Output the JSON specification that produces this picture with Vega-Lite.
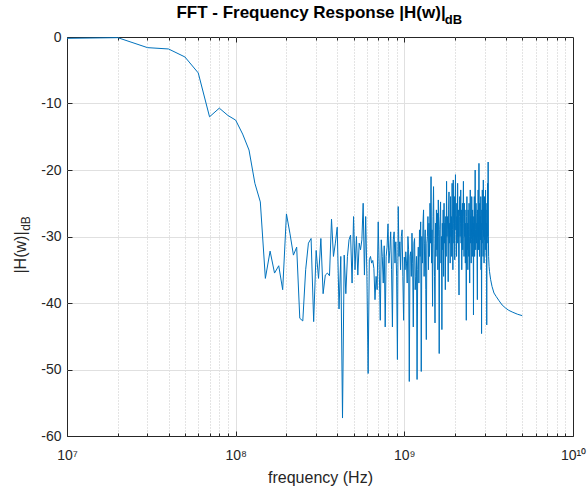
{
  "$schema": "https://vega.github.io/schema/vega-lite/v6.json",
  "width": 506,
  "height": 399,
  "autosize": "none",
  "padding": {"left": 67, "top": 37, "right": 15, "bottom": 54},
  "background": "white",
  "config": {
    "font": "Liberation Sans",
    "view": {"stroke": "#262626", "strokeWidth": 1}
  },
  "title": {
    "text": "FFT - Frequency Response |H(w)|",
    "fontSize": 17,
    "fontWeight": "bold",
    "color": "#000000",
    "anchor": "middle",
    "frame": "group",
    "dx": -9,
    "offset": -9
  },
  "data": {"values": [
    {"f":1e7,"db":-0.2},{"f":2e7,"db":-0.1},{"f":3e7,"db":-1.6},{"f":4e7,"db":-1.8},{"f":5e7,"db":-3},{"f":6e7,"db":-5.4},{"f":7e7,"db":-12},{"f":8e7,"db":-10.7},{"f":9e7,"db":-11.8},{"f":10e7,"db":-12.5},
    {"f":11e7,"db":-14.6},{"f":12e7,"db":-17},{"f":13e7,"db":-22},{"f":14e7,"db":-24.8},{"f":15e7,"db":-36.3},{"f":16e7,"db":-32.2},{"f":17e7,"db":-35.5},{"f":18e7,"db":-34.4},{"f":19e7,"db":-38},{"f":20e7,"db":-26.6},
    {"f":21e7,"db":-29.6},{"f":22e7,"db":-32.8},{"f":23e7,"db":-31.6},{"f":24e7,"db":-42.3},{"f":25e7,"db":-42.7},{"f":26e7,"db":-35},{"f":27e7,"db":-31},{"f":28e7,"db":-30.3},{"f":29e7,"db":-42.8},{"f":30e7,"db":-32.1},
    {"f":31e7,"db":-36.3},{"f":32e7,"db":-30.3},{"f":33e7,"db":-38.6},{"f":34e7,"db":-35.8},{"f":35e7,"db":-35.5},{"f":36e7,"db":-35.9},{"f":37e7,"db":-27.4},{"f":38e7,"db":-33},{"f":39e7,"db":-31},{"f":40e7,"db":-28.6},
    {"f":41e7,"db":-40.9},{"f":42e7,"db":-33},{"f":43e7,"db":-57.3},{"f":44e7,"db":-32.8},{"f":45e7,"db":-38.6},{"f":46e7,"db":-33},{"f":47e7,"db":-30.5},{"f":48e7,"db":-29.8},{"f":49e7,"db":-37},{"f":50e7,"db":-27},
    {"f":51e7,"db":-35},{"f":52e7,"db":-30},{"f":53e7,"db":-35.8},{"f":54e7,"db":-31},{"f":55e7,"db":-32},{"f":56e7,"db":-30.5},{"f":57e7,"db":-25},{"f":58e7,"db":-35.8},{"f":59e7,"db":-27},{"f":60e7,"db":-36},
    {"f":61e7,"db":-50.6},{"f":62e7,"db":-33.5},{"f":63e7,"db":-33},{"f":64e7,"db":-34},{"f":65e7,"db":-33.6},{"f":66e7,"db":-34.8},{"f":67e7,"db":-39.5},{"f":68e7,"db":-36},{"f":69e7,"db":-38},{"f":70e7,"db":-27.8},
    {"f":71e7,"db":-35},{"f":72e7,"db":-42.6},{"f":73e7,"db":-30.5},{"f":74e7,"db":-33},{"f":75e7,"db":-37},{"f":76e7,"db":-31.4},{"f":77e7,"db":-43.6},{"f":78e7,"db":-33},{"f":79e7,"db":-31.6},{"f":80e7,"db":-28.1},
    {"f":81e7,"db":-34},{"f":82e7,"db":-32.1},{"f":83e7,"db":-29.3},{"f":84e7,"db":-35},{"f":85e7,"db":-43.6},{"f":86e7,"db":-30.5},{"f":87e7,"db":-29.3},{"f":88e7,"db":-34},{"f":89e7,"db":-30.8},{"f":90e7,"db":-36},
    {"f":91e7,"db":-48.5},{"f":92e7,"db":-25.5},{"f":93e7,"db":-33},{"f":94e7,"db":-30.8},{"f":95e7,"db":-35},{"f":96e7,"db":-30},{"f":97e7,"db":-29},{"f":98e7,"db":-36},{"f":99e7,"db":-42.6},{"f":100e7,"db":-33.1},
    {"f":101e7,"db":-35},{"f":102e7,"db":-32.3},{"f":103e7,"db":-34},{"f":104e7,"db":-37},{"f":105e7,"db":-30},{"f":106e7,"db":-32},{"f":107e7,"db":-51.8},{"f":108e7,"db":-33},{"f":109e7,"db":-32.3},{"f":110e7,"db":-36},
    {"f":111e7,"db":-29.5},{"f":112e7,"db":-34},{"f":113e7,"db":-43.6},{"f":114e7,"db":-31},{"f":115e7,"db":-30.3},{"f":116e7,"db":-38},{"f":117e7,"db":-36},{"f":118e7,"db":-33},{"f":119e7,"db":-51.5},{"f":120e7,"db":-35},
    {"f":121e7,"db":-31.6},{"f":122e7,"db":-37},{"f":123e7,"db":-29},{"f":124e7,"db":-33},{"f":125e7,"db":-27.8},{"f":126e7,"db":-50.3},{"f":127e7,"db":-30},{"f":128e7,"db":-34},{"f":129e7,"db":-28},{"f":130e7,"db":-26},
    {"f":131e7,"db":-36},{"f":132e7,"db":-31},{"f":133e7,"db":-29},{"f":134e7,"db":-38},{"f":135e7,"db":-45.5},{"f":136e7,"db":-31},{"f":137e7,"db":-30},{"f":138e7,"db":-27},{"f":139e7,"db":-35},{"f":140e7,"db":-28},
    {"f":141e7,"db":-33},{"f":142e7,"db":-25},{"f":143e7,"db":-31},{"f":144e7,"db":-21},{"f":145e7,"db":-34},{"f":146e7,"db":-29},{"f":147e7,"db":-40.5},{"f":148e7,"db":-27},{"f":149e7,"db":-22.5},{"f":150e7,"db":-31},
    {"f":151e7,"db":-36},{"f":152e7,"db":-43},{"f":153e7,"db":-28},{"f":154e7,"db":-33},{"f":155e7,"db":-26},{"f":156e7,"db":-32},{"f":157e7,"db":-26.5},{"f":158e7,"db":-35},{"f":159e7,"db":-24.5},{"f":160e7,"db":-30},
    {"f":161e7,"db":-47.6},{"f":162e7,"db":-29},{"f":163e7,"db":-27},{"f":164e7,"db":-24.8},{"f":165e7,"db":-34},{"f":166e7,"db":-30},{"f":167e7,"db":-44},{"f":168e7,"db":-28},{"f":169e7,"db":-32},{"f":170e7,"db":-26},
    {"f":171e7,"db":-36},{"f":172e7,"db":-25},{"f":173e7,"db":-31},{"f":174e7,"db":-28},{"f":175e7,"db":-38},{"f":176e7,"db":-27},{"f":177e7,"db":-33},{"f":178e7,"db":-21.7},{"f":179e7,"db":-30},{"f":180e7,"db":-27},
    {"f":181e7,"db":-29},{"f":182e7,"db":-36.8},{"f":183e7,"db":-26},{"f":184e7,"db":-23.3},{"f":185e7,"db":-31},{"f":186e7,"db":-28},{"f":187e7,"db":-34},{"f":188e7,"db":-24},{"f":189e7,"db":-30},{"f":190e7,"db":-27},
    {"f":191e7,"db":-33},{"f":192e7,"db":-22},{"f":193e7,"db":-29},{"f":194e7,"db":-35},{"f":195e7,"db":-21.5},{"f":196e7,"db":-28},{"f":197e7,"db":-31},{"f":198e7,"db":-24},{"f":199e7,"db":-33.5},{"f":200e7,"db":-26},
    {"f":201e7,"db":-20.7},{"f":202e7,"db":-29},{"f":203e7,"db":-25},{"f":204e7,"db":-33},{"f":205e7,"db":-27},{"f":206e7,"db":-31},{"f":207e7,"db":-22},{"f":208e7,"db":-30},{"f":209e7,"db":-26},{"f":210e7,"db":-34},
    {"f":211e7,"db":-38.8},{"f":212e7,"db":-27},{"f":213e7,"db":-24},{"f":214e7,"db":-30},{"f":215e7,"db":-28},{"f":216e7,"db":-23},{"f":217e7,"db":-31},{"f":218e7,"db":-26},{"f":219e7,"db":-35},{"f":220e7,"db":-29},
    {"f":221e7,"db":-25},{"f":222e7,"db":-32},{"f":223e7,"db":-27},{"f":224e7,"db":-21.7},{"f":225e7,"db":-28},{"f":226e7,"db":-33},{"f":227e7,"db":-25},{"f":228e7,"db":-30},{"f":229e7,"db":-26},{"f":230e7,"db":-34},
    {"f":231e7,"db":-28},{"f":232e7,"db":-31},{"f":233e7,"db":-42.6},{"f":234e7,"db":-27},{"f":235e7,"db":-24},{"f":236e7,"db":-32},{"f":237e7,"db":-28},{"f":238e7,"db":-35},{"f":239e7,"db":-26},{"f":240e7,"db":-29},
    {"f":241e7,"db":-33},{"f":242e7,"db":-25},{"f":243e7,"db":-30},{"f":244e7,"db":-37},{"f":245e7,"db":-28},{"f":246e7,"db":-23},{"f":247e7,"db":-31},{"f":248e7,"db":-27},{"f":249e7,"db":-34},{"f":250e7,"db":-30.5},
    {"f":251e7,"db":-24},{"f":252e7,"db":-29},{"f":253e7,"db":-33},{"f":254e7,"db":-26},{"f":255e7,"db":-31},{"f":256e7,"db":-28},{"f":257e7,"db":-41.8},{"f":258e7,"db":-27},{"f":259e7,"db":-30},{"f":260e7,"db":-24},
    {"f":261e7,"db":-33},{"f":262e7,"db":-27},{"f":263e7,"db":-20},{"f":264e7,"db":-29},{"f":265e7,"db":-32},{"f":266e7,"db":-25},{"f":267e7,"db":-26.5},{"f":268e7,"db":-31},{"f":269e7,"db":-28},{"f":270e7,"db":-34},
    {"f":271e7,"db":-39.5},{"f":272e7,"db":-26},{"f":273e7,"db":-30},{"f":274e7,"db":-23},{"f":275e7,"db":-32},{"f":276e7,"db":-27},{"f":277e7,"db":-19},{"f":278e7,"db":-28},{"f":279e7,"db":-33},{"f":280e7,"db":-25},
    {"f":281e7,"db":-30},{"f":282e7,"db":-27},{"f":283e7,"db":-30.5},{"f":284e7,"db":-24},{"f":285e7,"db":-35},{"f":286e7,"db":-28},{"f":287e7,"db":-44.6},{"f":288e7,"db":-26},{"f":289e7,"db":-31},{"f":290e7,"db":-23},
    {"f":291e7,"db":-29},{"f":292e7,"db":-27},{"f":293e7,"db":-33},{"f":294e7,"db":-21.5},{"f":295e7,"db":-30},{"f":296e7,"db":-26},{"f":297e7,"db":-34},{"f":298e7,"db":-28},{"f":299e7,"db":-24},{"f":300e7,"db":-30.5},
    {"f":301e7,"db":-27},{"f":302e7,"db":-32},{"f":303e7,"db":-23},{"f":304e7,"db":-29},{"f":305e7,"db":-26},{"f":306e7,"db":-33},{"f":307e7,"db":-28},{"f":308e7,"db":-43.3},{"f":309e7,"db":-25},{"f":310e7,"db":-30},
    {"f":311e7,"db":-27},{"f":312e7,"db":-22},{"f":313e7,"db":-31},{"f":314e7,"db":-18.8},{"f":315e7,"db":-30},
    {"f":316e7,"db":-33},{"f":318e7,"db":-34.5},{"f":320e7,"db":-35.3},{"f":325e7,"db":-36.5},{"f":331e7,"db":-37.5},{"f":340e7,"db":-38.5},{"f":350e7,"db":-39},{"f":363e7,"db":-39.6},{"f":380e7,"db":-40.3},{"f":400e7,"db":-40.8},{"f":416e7,"db":-41.1},{"f":440e7,"db":-41.4},{"f":470e7,"db":-41.7},{"f":500e7,"db":-41.9}
  ]},
  "layer": [
    {
      "mark": {"type": "line", "color": "#0072BD", "strokeWidth": 1, "clip": true},
      "encoding": {
        "x": {"field": "f", "type": "quantitative",
          "scale": {"type": "log", "domain": [1e7, 1e10], "nice": false},
          "axis": {"orient": "bottom", "values": [1e7, 1e8, 1e9, 1e10],
            "labelExpr": "'10' + ['\u2077','\u2078','\u2079','\u00b9\u2070'][round(log(datum.value)/LN10) - 7]",
            "labelFlush": false, "labelOverlap": false, "labelFontSize": 14, "labelColor": "#262626", "labelBaseline": "top", "labelPadding": 17,
            "tickSize": -5, "tickColor": "#262626", "domain": false,
            "grid": true, "gridColor": {"condition": {"test": "datum.value <= 1e7 || datum.value >= 1e10", "value": "transparent"}, "value": "#e0e0e0"},
            "title": "frequency (Hz)", "titleFontSize": 16, "titleFontWeight": "normal", "titleColor": "#262626", "titleY": 33, "titleBaseline": "top"}},
        "y": {"field": "db", "type": "quantitative",
          "scale": {"domain": [-60, 0], "nice": false, "zero": false},
          "axis": {"orient": "left", "values": [-60, -50, -40, -30, -20, -10, 0],
            "labelExpr": "'' + datum.value", "labelFontSize": 14, "labelColor": "#262626", "labelPadding": 11,
            "tickSize": -5, "tickColor": "#262626", "domain": false,
            "grid": true, "gridColor": {"condition": {"test": "datum.value <= -60 || datum.value >= 0", "value": "transparent"}, "value": "#e0e0e0"},
            "title": "|H(w)|", "titleFontSize": 16, "titleFontWeight": "normal", "titleColor": "#262626", "titleX": -39, "titleY": 215}}
      }
    },
    {
      "mark": {"type": "line", "opacity": 0},
      "encoding": {
        "x": {"field": "f", "type": "quantitative",
          "scale": {"type": "log", "domain": [1e7, 1e10], "nice": false},
          "axis": {"orient": "bottom", "values": [2e7,3e7,4e7,5e7,6e7,7e7,8e7,9e7,2e8,3e8,4e8,5e8,6e8,7e8,8e8,9e8,2e9,3e9,4e9,5e9,6e9,7e9,8e9,9e9],
            "labels": false, "tickSize": -3, "tickColor": "#262626", "domain": false,
            "grid": true, "gridColor": "#c8c8c8", "gridDash": [1, 2], "title": null}},
        "y": {"field": "db", "type": "quantitative",
          "scale": {"domain": [-60, 0], "nice": false, "zero": false},
          "axis": {"orient": "right", "values": [-50, -40, -30, -20, -10],
            "labels": false, "tickSize": -5, "tickColor": "#262626", "domain": false, "grid": false, "title": null}}
      }
    },
    {
      "mark": {"type": "line", "opacity": 0},
      "encoding": {
        "x": {"field": "f", "type": "quantitative",
          "scale": {"type": "log", "domain": [1e7, 1e10], "nice": false},
          "axis": {"orient": "top", "values": [1e8, 1e9],
            "labels": false, "tickSize": -5, "tickColor": "#262626", "domain": false, "grid": false,
            "title": "dB", "titleFontSize": 13, "titleFontWeight": "bold", "titleColor": "#000000",
            "titleX": 386, "titleY": -14, "titleAlign": "center", "titleBaseline": "alphabetic"}},
        "y": {"field": "db", "type": "quantitative",
          "scale": {"domain": [-60, 0], "nice": false, "zero": false},
          "axis": {"orient": "left", "labels": false, "ticks": false, "domain": false, "grid": false,
            "title": "dB", "titleFontSize": 12, "titleFontWeight": "normal", "titleColor": "#262626", "titleX": -35, "titleY": 186}}
      }
    },
    {
      "mark": {"type": "line", "opacity": 0},
      "encoding": {
        "x": {"field": "f", "type": "quantitative",
          "scale": {"type": "log", "domain": [1e7, 1e10], "nice": false},
          "axis": {"orient": "top", "values": [2e7,3e7,4e7,5e7,6e7,7e7,8e7,9e7,2e8,3e8,4e8,5e8,6e8,7e8,8e8,9e8,2e9,3e9,4e9,5e9,6e9,7e9,8e9,9e9],
            "labels": false, "tickSize": -3, "tickColor": "#262626", "domain": false, "grid": false, "title": null}},
        "y": {"field": "db", "type": "quantitative",
          "scale": {"domain": [-60, 0], "nice": false, "zero": false},
          "axis": null}
      }
    }
  ],
  "resolve": {"axis": {"x": "independent", "y": "independent"}}
}
